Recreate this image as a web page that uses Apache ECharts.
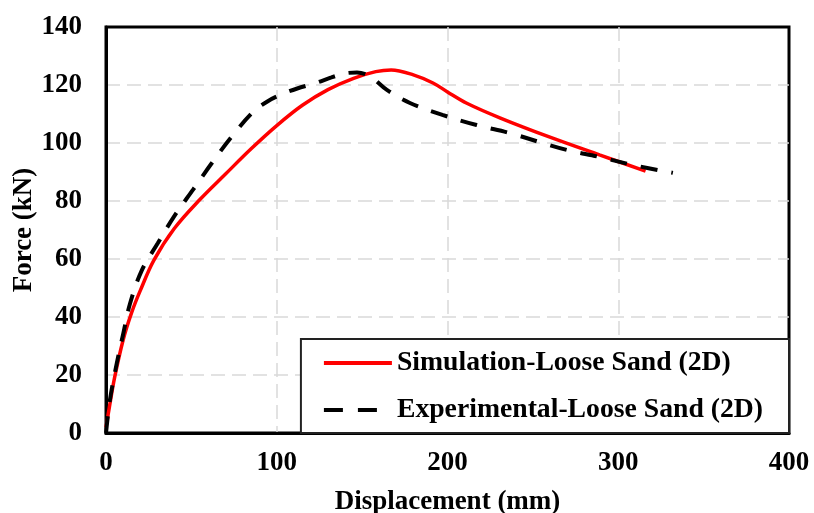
<!DOCTYPE html>
<html>
<head>
<meta charset="utf-8">
<script src="https://cdn.jsdelivr.net/npm/echarts@6/dist/echarts.min.js"></script>
<style>
html,body{margin:0;padding:0;background:#fff;}
#chart{width:814px;height:513px;}
</style>
</head>
<body>
<div id="chart"></div>
<script>
var xTicks = [0, 100, 200, 300, 400];
var yTicks = [0, 20, 40, 60, 80, 100, 120, 140];

var simName = 'Simulation-Loose Sand (2D)';
var simX = [0, 2, 5, 10, 15, 20, 28, 40, 55, 70, 85, 100, 115, 130, 145, 158, 167, 180, 191.5, 200, 211, 231, 260, 289, 316];
var simY = [2, 9, 19, 32, 41.5, 49, 59.5, 70.5, 80.5, 89.3, 98, 106, 113, 118.4, 122.3, 124.6, 125.2, 123.5, 120.7, 117.6, 113.8, 108.6, 102, 95.9, 90.3];

var expName = 'Experimental-Loose Sand (2D)';
var expX = [0, 2.3, 6.3, 10.2, 14, 20.9, 30.3, 40, 51.1, 61.9, 73.6, 86.3, 95, 102.9, 112, 122.4, 132, 140, 147, 155, 164.5, 178, 197, 217, 236.6, 254, 270, 289, 308.6, 332];
var expY = [0, 11.4, 24, 34.5, 44.5, 56, 65.4, 74.8, 84, 93, 102.2, 110.8, 114.5, 116.8, 118.8, 120.6, 122.6, 124, 124.3, 122.8, 118.3, 113.8, 109.7, 106.2, 103.4, 100.3, 97.6, 95.2, 92.4, 89.7];

function pairs(xs, ys) { return xs.map(function (x, i) { return [x, ys[i]]; }); }

var FONT = "'Liberation Serif', 'Times New Roman', serif";
var gridLine = { show: true, showMinLine: false, showMaxLine: false, lineStyle: { color: '#d9d9d9', width: 1.5, type: [14, 7] } };

var chart = echarts.init(document.getElementById('chart'), null, { renderer: 'canvas' });
chart.setOption({
  animation: false,
  backgroundColor: '#fff',
  grid: { left: 106, right: 25, top: 27, bottom: 80, outerBoundsMode: 'none', containLabel: false, show: true, borderColor: '#000', borderWidth: 3, backgroundColor: 'transparent' },
  xAxis: {
    type: 'value', min: xTicks[0], max: xTicks[xTicks.length - 1], interval: 100,
    name: 'Displacement (mm)', nameLocation: 'middle', nameGap: 56, nameMoveOverlap: false,
    nameTextStyle: { fontFamily: FONT, fontWeight: 'bold', fontSize: 27, color: '#000' },
    axisLine: { show: true, lineStyle: { color: '#000', width: 3 } },
    axisTick: { show: false },
    axisLabel: { margin: 17, fontFamily: FONT, fontWeight: 'bold', fontSize: 27, color: '#000' },
    splitLine: gridLine
  },
  yAxis: {
    type: 'value', min: yTicks[0], max: yTicks[yTicks.length - 1], interval: 20,
    name: 'Force (kN)', nameLocation: 'middle', nameGap: 68, nameRotate: 90, nameMoveOverlap: false,
    nameTextStyle: { fontFamily: FONT, fontWeight: 'bold', fontSize: 27, color: '#000' },
    axisLine: { show: true, lineStyle: { color: '#000', width: 3 } },
    axisTick: { show: false },
    axisLabel: { margin: 24, fontFamily: FONT, fontWeight: 'bold', fontSize: 27, color: '#000' },
    splitLine: gridLine
  },
  legend: {
    orient: 'vertical', right: 25, bottom: 80,
    backgroundColor: '#fff', borderColor: '#222', borderWidth: 2,
    padding: [9, 26, 8, 21], itemGap: 17, itemWidth: 68, itemHeight: 30,
    itemStyle: { opacity: 0 },
    textStyle: { fontFamily: FONT, fontWeight: 'bold', fontSize: 27.7, color: '#000', lineHeight: 30 },
    data: [
      { name: simName, lineStyle: { width: 4 } },
      { name: expName, lineStyle: { width: 4, type: [19, 15] } }
    ]
  },
  series: [
    {
      name: simName, type: 'line', data: pairs(simX, simY), smooth: 0.35, symbol: 'none',
      lineStyle: { color: '#ff0000', width: 3.5 }, itemStyle: { color: '#ff0000' }
    },
    {
      name: expName, type: 'line', data: pairs(expX, expY), smooth: 0.35, symbol: 'none',
      lineStyle: { color: '#000', width: 4, type: [17, 14] }, itemStyle: { color: '#000' }
    }
  ]
});
</script>
</body>
</html>
